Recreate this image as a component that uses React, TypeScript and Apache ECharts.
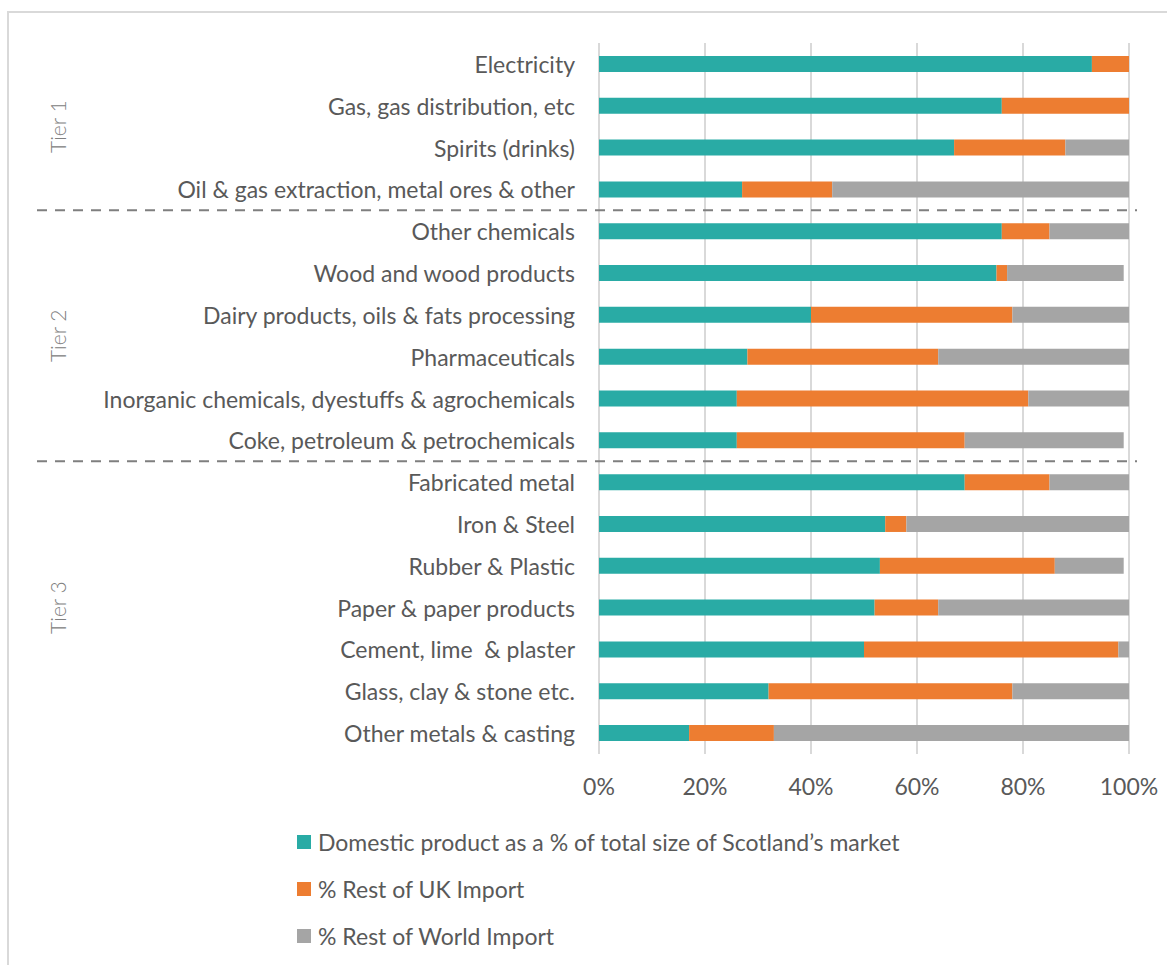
import React, { useEffect, useRef } from "react";
import * as echarts from "echarts";

// Sectors, top to bottom
const categories = [
  "Electricity",
  "Gas, gas distribution, etc",
  "Spirits (drinks)",
  "Oil & gas extraction, metal ores & other",
  "Other chemicals",
  "Wood and wood products",
  "Dairy products, oils & fats processing",
  "Pharmaceuticals",
  "Inorganic chemicals, dyestuffs & agrochemicals",
  "Coke, petroleum & petrochemicals",
  "Fabricated metal",
  "Iron & Steel",
  "Rubber & Plastic",
  "Paper & paper products",
  "Cement, lime  & plaster",
  "Glass, clay & stone etc.",
  "Other metals & casting",
];

const seriesNames = [
  "Domestic product as a % of total size of Scotland\u2019s market",
  "% Rest of UK Import",
  "% Rest of World Import",
];

const domestic = [93, 76, 67, 27, 76, 75, 40, 28, 26, 26, 69, 54, 53, 52, 50, 32, 17];
const restOfUK = [7, 24, 21, 17, 9, 2, 38, 36, 55, 43, 16, 4, 33, 12, 48, 46, 16];
const restOfWorld = [0, 0, 12, 56, 15, 22, 22, 36, 19, 30, 15, 42, 13, 36, 2, 22, 67];

const xTicks = [0, 20, 40, 60, 80, 100];

// Tier groupings: first and last category index of each group
const tierNames = ["Tier 1", "Tier 2", "Tier 3"];
const tierStart = [0, 4, 10];
const tierEnd = [3, 9, 16];

const colors = ["#29ABA5", "#ED7D31", "#A5A5A5"];
const FONT = 'Lato, "Liberation Sans", sans-serif';
const TEXT = "#595959";
const FS = 23;

export default function App() {
  const ref = useRef<HTMLDivElement>(null);

  useEffect(() => {
    if (!ref.current) return;
    const chart = echarts.init(ref.current, null, { renderer: "svg" });
    const values = [domestic, restOfUK, restOfWorld];

    chart.setOption({
      animation: false,
      backgroundColor: "#ffffff",
      textStyle: { fontFamily: FONT },
      grid: { left: 599, right: 38, top: 43, bottom: 211, containLabel: false },
      legend: {
        orient: "vertical",
        left: 292,
        top: 824,
        itemWidth: 14,
        itemHeight: 14,
        itemGap: 21,
        icon: "rect",
        data: seriesNames,
        textStyle: { fontSize: FS, color: TEXT, fontFamily: FONT, lineHeight: 26, padding: [0, 0, 0, 2] },
      },
      xAxis: {
        type: "value",
        min: xTicks[0],
        max: xTicks[xTicks.length - 1],
        interval: xTicks[1] - xTicks[0],
        axisLine: { show: false },
        axisTick: { show: false },
        splitLine: { show: true, lineStyle: { color: "#D9D9D9", width: 2 } },
        axisLabel: {
          formatter: "{value}%",
          fontSize: FS,
          color: TEXT,
          fontFamily: FONT,
          margin: 20,
        },
      },
      yAxis: {
        type: "category",
        data: categories,
        inverse: true,
        axisLine: { show: false },
        axisTick: { show: false },
        axisLabel: { fontSize: FS, color: TEXT, fontFamily: FONT, margin: 24 },
      },
      series: seriesNames.map((name, i) => ({
        name,
        type: "bar",
        stack: "total",
        barWidth: 16,
        data: values[i],
        itemStyle: { color: colors[i] },
      })),
    });

    // Separators between tiers and tier captions, placed from the category axis
    const yOf = (i: number) => chart.convertToPixel({ yAxisIndex: 0 }, i) as number;
    const graphic: any[] = [
      {
        type: "rect",
        z: -1,
        shape: { x: 8, y: 12, width: 1200, height: 1000 },
        style: { fill: "none", stroke: "#D9D9D9", lineWidth: 2 },
      },
    ];
    for (let t = 0; t < tierNames.length; t++) {
      const mid = (yOf(tierStart[t]) + yOf(tierEnd[t])) / 2;
      graphic.push({
        type: "text",
        x: 57,
        y: mid,
        rotation: Math.PI / 2,
        style: {
          text: tierNames[t],
          fontSize: 21,
          fontWeight: 300,
          fontFamily: FONT,
          fill: "#808080",
          align: "center",
          verticalAlign: "middle",
        },
      });
      if (t < tierNames.length - 1) {
        const yb = (yOf(tierEnd[t]) + yOf(tierStart[t + 1])) / 2;
        graphic.push({
          type: "line",
          shape: { x1: 37, y1: yb, x2: 1137, y2: yb },
          style: { stroke: "#7F7F7F", lineWidth: 2, lineDash: [10, 8] },
        });
      }
    }
    chart.setOption({ graphic });

    return () => chart.dispose();
  }, []);

  return (
    <div
      ref={ref}
      style={{ position: "absolute", left: 0, top: 0, width: 1167, height: 965 }}
    />
  );
}
